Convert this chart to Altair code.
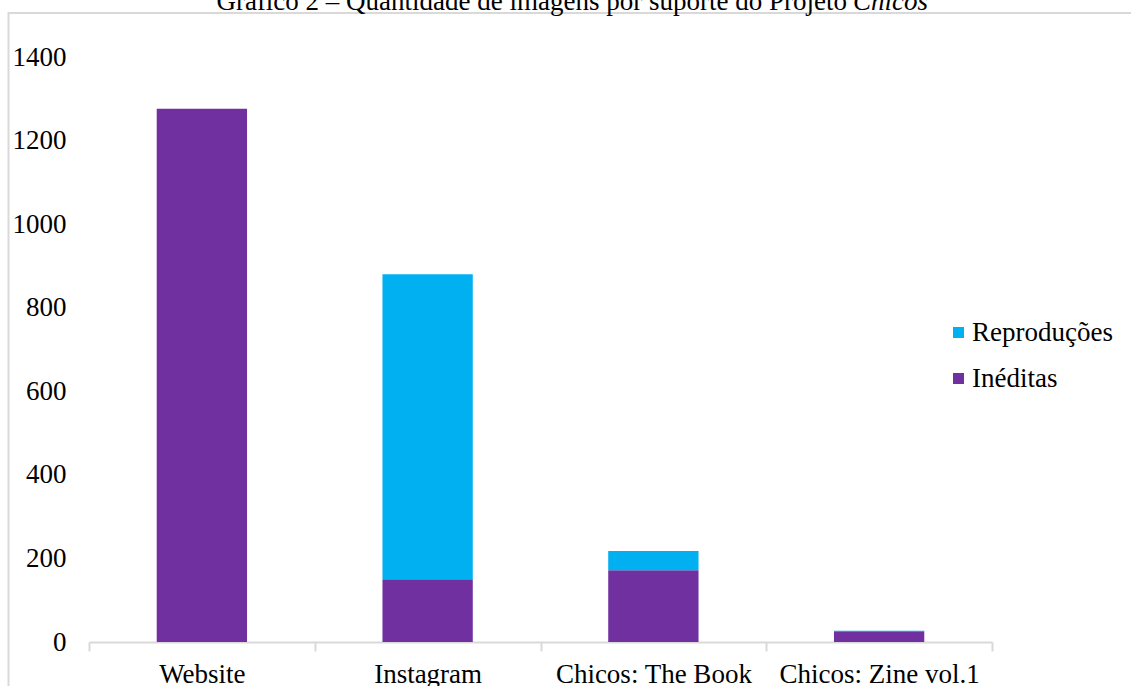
import altair as alt
import pandas as pd

categories = ["Website", "Instagram", "Chicos: The Book", "Chicos: Zine vol.1"]
ineditas = [1276, 150, 172, 26]
reproducoes = [0, 730, 46, 1]
series = ["Reproduções", "Inéditas"]
colors = ["#00B0F0", "#7030A0"]
y_ticks = [0, 200, 400, 600, 800, 1000, 1200, 1400]
title_main = "Gráfico 2 – Quantidade de imagens por suporte do Projeto"
title_italic = "Chicos"

rows = []
for c, i, r in zip(categories, ineditas, reproducoes):
    rows.append({"cat": c, "serie": "Inéditas", "val": i, "ord": 0})
    rows.append({"cat": c, "serie": "Reproduções", "val": r, "ord": 1})
df = pd.DataFrame(rows)

FONT = "Liberation Serif"
FS = 27
W, H = 903, 585
PL, PT = 89, 57

bars = alt.Chart(df).mark_bar(width=alt.RelativeBandSize(0.4)).encode(
    x=alt.X("cat:N", sort=categories, title=None,
            scale=alt.Scale(paddingInner=0, paddingOuter=0),
            axis=alt.Axis(labelAngle=0, labelFont=FONT, labelFontSize=FS,
                          labelColor="#000000", domainColor="#d9d9d9",
                          domainWidth=2, tickColor="#d9d9d9", tickWidth=2,
                          tickSize=9, tickBand="extent", labelPadding=10,
                          labelLimit=0)),
    y=alt.Y("val:Q", stack="zero", title=None,
            scale=alt.Scale(domain=[0, 1400]),
            axis=alt.Axis(values=y_ticks, format="d", grid=False, domain=False,
                          ticks=False, labelFont=FONT, labelFontSize=FS,
                          labelColor="#000000", labelPadding=23)),
    color=alt.Color("serie:N", scale=alt.Scale(domain=series, range=colors),
                    legend=alt.Legend(title=None, orient="none", legendX=856,
                                      legendY=262, symbolType="square",
                                      symbolSize=121, symbolStrokeWidth=0,
                                      labelFont=FONT, labelFontSize=FS,
                                      labelColor="#000000", rowPadding=18,
                                      labelOffset=0, labelLimit=0)),
    order=alt.Order("ord:Q"),
)

tdf = pd.DataFrame({"t": [title_main], "i": [title_italic]})
t1 = alt.Chart(tdf).mark_text(font=FONT, fontSize=FS, align="right",
                              baseline="alphabetic", color="#000000").encode(
    text="t:N", x=alt.value(758), y=alt.value(-47))
t2 = alt.Chart(tdf).mark_text(font=FONT, fontSize=FS, align="left",
                              baseline="alphabetic", fontStyle="italic",
                              color="#000000").encode(
    text="i:N", x=alt.value(764), y=alt.value(-47))
frame = alt.Chart(tdf).mark_rect(fill=None, stroke="#d9d9d9", strokeWidth=2).encode(
    x=alt.value(-80.5), x2=alt.value(1131 - PL + 10),
    y=alt.value(-44), y2=alt.value(700))

chart = alt.layer(frame, bars, t1, t2).properties(
    width=W, height=H,
    background="white",
    autosize=alt.AutoSizeParams(type="none"),
    padding={"left": PL, "top": PT, "right": 1131 - PL - W, "bottom": 686 - PT - H},
).configure_view(strokeWidth=0, stroke="transparent")

chart.save("out.html", embed_options={"renderer": "svg", "actions": False})
